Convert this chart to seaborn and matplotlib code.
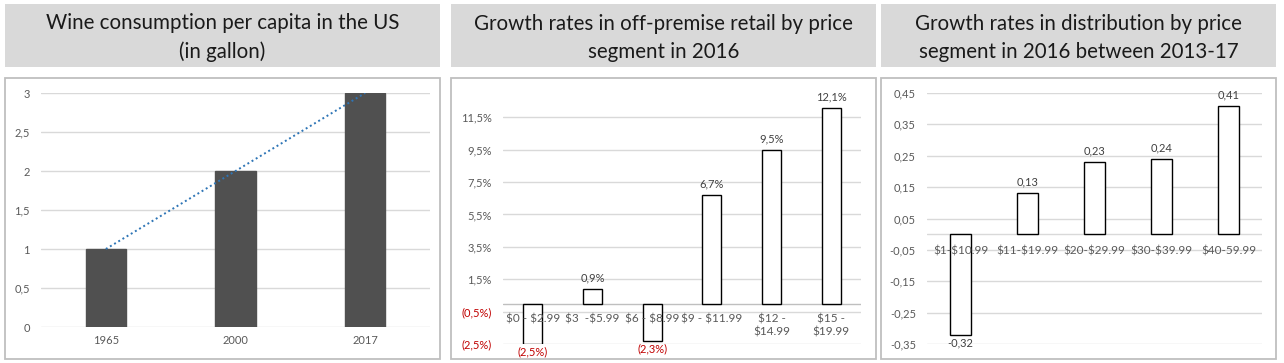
import numpy as np
import pandas as pd
import seaborn as sns
import matplotlib
matplotlib.use('Agg')
from matplotlib import pyplot as plt
from matplotlib.patches import Rectangle

# ==== data ====
years = ['1965', '2000', '2017']
gallons = [1, 2, 3]

retail_segments = ['$0 - $2.99', '$3  -$5.99', '$6 - $8.99', '$9 - $11.99', '$12 -\n$14.99', '$15 -\n$19.99']
retail_growth = [-2.5, 0.9, -2.3, 6.7, 9.5, 12.1]

dist_segments = ['$1-$10.99', '$11-$19.99', '$20-$29.99', '$30-$39.99', '$40-59.99']
dist_growth = [-0.32, 0.13, 0.23, 0.24, 0.41]

titles = ['Wine consumption per capita in the US\n(in gallon)',
          'Growth rates in off-premise retail by price\nsegment in 2016',
          'Growth rates in distribution by price\nsegment in 2016 between 2013-17']

sns.set_style('white')
plt.rcParams['font.family'] = ['Lato', 'DejaVu Sans']
plt.rcParams['text.parse_math'] = False  # dollar signs are plain text here

W, H = 1284, 363
fig = plt.figure(figsize=(W / 100, H / 100), dpi=100)


def px_rect(x0, y0, x1, y1):
    # pixel box (from top-left) -> figure fraction [l, b, w, h]
    return [x0 / W, 1 - y1 / H, (x1 - x0) / W, (y1 - y0) / H]


# ==== boxes ====
panels = [(5, 440), (451, 876), (881, 1276)]
for (x0, x1), t in zip(panels, titles):
    l, b, w, h = px_rect(x0, 4, x1, 67)
    fig.patches.append(Rectangle((l, b), w, h, transform=fig.transFigure,
                                 facecolor='#d9d9d9', edgecolor='none', zorder=-2))
    fig.text(l + w / 2, b + h / 2 - 0.006, t, ha='center', va='center', fontsize=14.8,
             color='#1a1a1a', linespacing=1.5)
    l, b, w, h = px_rect(x0, 78, x1, 359)
    fig.patches.append(Rectangle((l, b), w, h, transform=fig.transFigure,
                                 facecolor='white', edgecolor='#bfbfbf', linewidth=1.3, zorder=-2))

tick_color = '#595959'
grid_color = '#d9d9d9'


def style_axes(ax):
    for s in ax.spines.values():
        s.set_visible(False)
    ax.set_facecolor('none')
    ax.tick_params(axis='both', length=0, labelsize=8, labelcolor=tick_color)
    ax.tick_params(axis='y', pad=8)
    ax.set_xlabel('')
    ax.set_ylabel('')
    ax.grid(False)
    ax.set_axisbelow(True)


# ==== panel 1 ====
ax1 = fig.add_axes(px_rect(41, 93, 430, 327))
df1 = pd.DataFrame({'year': years, 'gallons': gallons})
sns.barplot(data=df1, x='year', y='gallons', color='#505050', width=0.31,
            saturation=1, ax=ax1, edgecolor='#505050')
style_axes(ax1)
yt = np.arange(0, 3.01, 0.5)
ax1.set_yticks(yt)
ax1.set_yticklabels([('%g' % v).replace('.', ',') for v in yt])
for v in yt:
    ax1.axhline(v, color=grid_color, lw=1, zorder=0)
ax1.set_ylim(0, 3)
ax1.set_xlim(-0.5, 2.5)
ax1.tick_params(axis='x', pad=6)
xpos = np.arange(len(years))
k, c = np.polyfit(xpos, gallons, 1)
ax1.plot(xpos, k * xpos + c, linestyle=(0, (1, 1.5)), color='#2e75b6', lw=1.4, zorder=5)

# ==== panel 2 ====
ax2 = fig.add_axes(px_rect(503, 93, 861, 344))
df2 = pd.DataFrame({'seg': retail_segments, 'growth': retail_growth})
sns.barplot(data=df2, x='seg', y='growth', color='white', width=0.32, saturation=1,
            edgecolor='black', linewidth=1, ax=ax2)
style_axes(ax2)
yt2 = np.arange(-2.5, 11.6, 2)
ax2.set_yticks(yt2)
lab2 = []
for v in yt2:
    s = ('%.1f%%' % abs(v)).replace('.', ',')
    lab2.append('(%s)' % s if v < 0 else s)
ax2.set_yticklabels(lab2)
for tl, v in zip(ax2.get_yticklabels(), yt2):
    if v < 0:
        tl.set_color('#c00000')
for v in yt2:
    ax2.axhline(v, color=grid_color, lw=1, zorder=0)
ax2.axhline(0, color='#bfbfbf', lw=1, zorder=0)
ax2.set_ylim(-2.5, 13.0)
ax2.set_xlim(-0.5, len(retail_segments) - 0.5)
ax2.set_xticks([])
for i, (seg, v) in enumerate(zip(retail_segments, retail_growth)):
    s = ('%.1f%%' % abs(v)).replace('.', ',')
    if v < 0:
        ax2.annotate('(%s)' % s, (i, v), xytext=(0, -2), textcoords='offset points',
                     ha='center', va='top', fontsize=8, color='#c00000', annotation_clip=False)
    else:
        ax2.annotate(s, (i, v), xytext=(0, 4), textcoords='offset points',
                     ha='center', va='bottom', fontsize=8, color='#404040', annotation_clip=False)
    ax2.annotate(seg, (i, 0), xytext=(0, -7), textcoords='offset points',
                 ha='center', va='top', fontsize=8.5, color=tick_color, linespacing=1.3,
                 annotation_clip=False)

# ==== panel 3 ====
ax3 = fig.add_axes(px_rect(927, 93, 1262, 344))
df3 = pd.DataFrame({'seg': dist_segments, 'growth': dist_growth})
sns.barplot(data=df3, x='seg', y='growth', color='white', width=0.32, saturation=1,
            edgecolor='black', linewidth=1, ax=ax3)
style_axes(ax3)
yt3 = np.arange(-0.35, 0.46, 0.1)
ax3.set_yticks(yt3)
ax3.set_yticklabels([('%.2f' % v).replace('.', ',') for v in yt3])
for v in yt3:
    ax3.axhline(v, color=grid_color, lw=1, zorder=0)
ax3.axhline(0, color='#d9d9d9', lw=1, zorder=0)
ax3.set_ylim(-0.35, 0.45)
ax3.set_xlim(-0.5, len(dist_segments) - 0.5)
ax3.set_xticks([])
for i, (seg, v) in enumerate(zip(dist_segments, dist_growth)):
    s = ('%.2f' % v).replace('.', ',')
    if v < 0:
        ax3.annotate(s, (i, v), xytext=(0, -2), textcoords='offset points',
                     ha='center', va='top', fontsize=8, color='#404040', annotation_clip=False)
    else:
        ax3.annotate(s, (i, v), xytext=(0, 4), textcoords='offset points',
                     ha='center', va='bottom', fontsize=8, color='#404040', annotation_clip=False)
    ax3.annotate(seg, (i, 0), xytext=(0, -8.5), textcoords='offset points',
                 ha='center', va='top', fontsize=8.5, color=tick_color, annotation_clip=False)

fig.savefig('out.png', dpi=100)
